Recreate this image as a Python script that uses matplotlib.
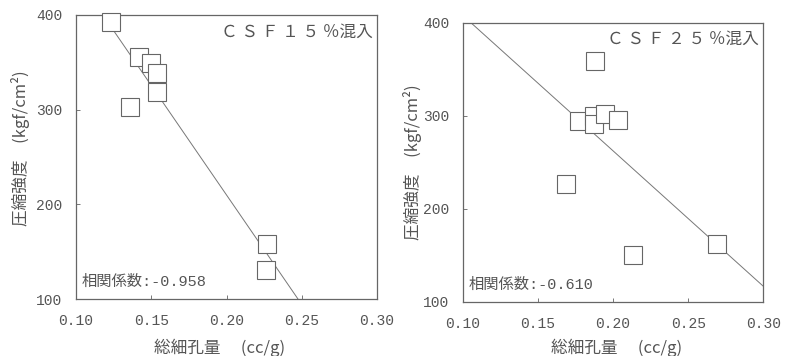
import numpy as np
import matplotlib.pyplot as plt

plt.rcParams['font.family'] = ['Noto Sans CJK JP', 'DejaVu Sans']

# CSF 15% panel
pore_15 = [0.123, 0.142, 0.150, 0.1536, 0.1536, 0.136, 0.2267, 0.2262]
strength_15 = [393, 356, 349, 339, 319, 302.5, 158, 131]

# CSF 25% panel
pore_25 = [0.188, 0.177, 0.187, 0.187, 0.1945, 0.203, 0.1685, 0.213, 0.269]
strength_25 = [359, 294, 300, 291, 302, 295, 227, 150, 162]

titles = ['Ｃ Ｓ Ｆ １ ５ ％混入', 'Ｃ Ｓ Ｆ ２ ５ ％混入']
corr_labels = ['相関係数:-0.958', '相関係数:-0.610']
xticks = [0.10, 0.15, 0.20, 0.25, 0.30]
yticks = [100, 200, 300, 400]

gray = '#555555'
tick_font = 'Liberation Mono'
mixed = ['Liberation Mono', 'Noto Sans CJK JP']

fig = plt.figure(figsize=(7.86, 3.56), dpi=100)
ax1 = fig.add_axes([0.0967, 0.160, 0.383, 0.798])
ax2 = fig.add_axes([0.589, 0.152, 0.382, 0.784])


def draw_panel(ax, xs, ys, title, corr, lab_pos):
    b, a = np.polyfit(xs, ys, 1)
    xl = np.array([0.10, 0.30])
    ax.plot(xl, a + b * xl, color='#777777', lw=0.7, zorder=1)
    ax.plot(xs, ys, linestyle='None', marker='s', ms=12.5, clip_on=False,
            mfc='white', mec='#666666', mew=0.8, zorder=3)
    ax.set_xlim(0.10, 0.30)
    ax.set_ylim(100, 400)
    ax.set_xticks(xticks)
    ax.set_yticks(yticks)
    ax.set_xticklabels(['%.2f' % t for t in xticks], family=tick_font,
                       fontsize=10.5, color=gray)
    ax.set_yticklabels([str(t) for t in yticks], family=tick_font,
                       fontsize=10.5, color=gray)
    ax.tick_params(direction='in', length=3, width=0.7, colors='#777777')
    ax.tick_params(axis='x', pad=11, labelcolor=gray)
    ax.tick_params(axis='y', pad=10, labelcolor=gray)
    for s in ax.spines.values():
        s.set_color('#666666')
        s.set_linewidth(0.9)
    ax.text(0.985, 0.94, title, transform=ax.transAxes, ha='right',
            va='center', fontsize=12, color=gray)
    ax.text(0.02, 0.06, corr, transform=ax.transAxes, ha='left',
            va='center', fontsize=11, color=gray, family=mixed)
    ax.set_xlabel('総細孔量　 (cc/g)', fontsize=12, color=gray)
    ax.set_ylabel('圧縮強度　(kgf/cm²)', fontsize=12, color=gray)
    ax.xaxis.set_label_coords(lab_pos[0], lab_pos[1])
    ax.yaxis.set_label_coords(lab_pos[2], lab_pos[3])


draw_panel(ax1, pore_15, strength_15, titles[0], corr_labels[0],
           (0.478, -0.14, -0.153, 0.53))
draw_panel(ax2, pore_25, strength_25, titles[1], corr_labels[1],
           (0.51, -0.132, -0.137, 0.5))

fig.savefig('out.png', dpi=100)
